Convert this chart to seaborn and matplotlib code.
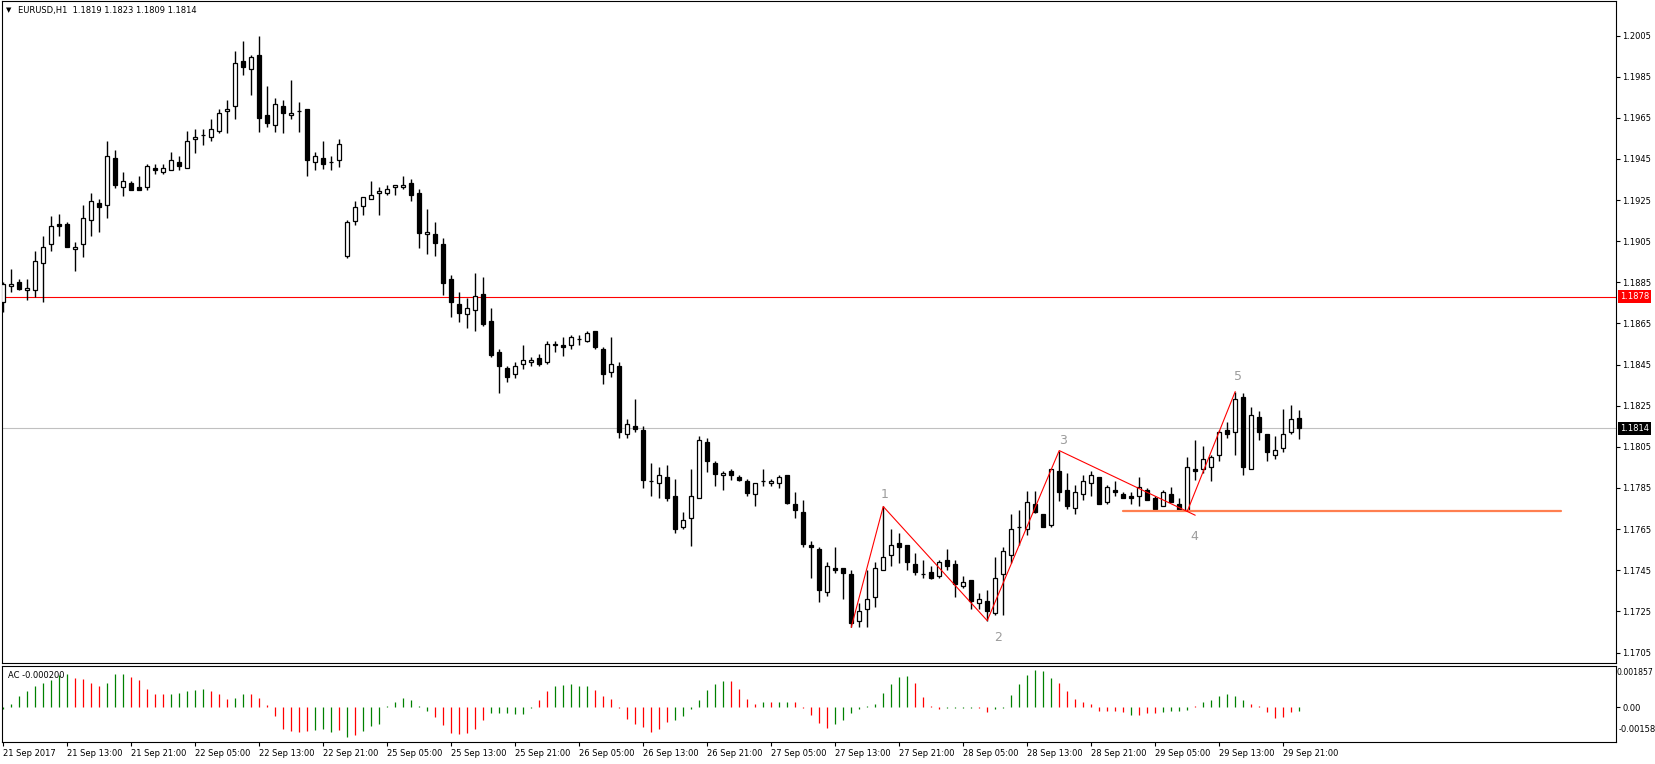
import numpy as np
import matplotlib
matplotlib.use("Agg")
import matplotlib.pyplot as plt
import matplotlib.transforms as mtransforms
import seaborn as sns

# EURUSD H1 candles, 21 Sep 05:00 .. 29 Sep 23:00 (broker time)
opens = [
    1.18752, 1.18832, 1.18851, 1.18812, 1.18812, 1.18943, 1.19036, 1.19135, 1.19135, 1.19011,
    1.19036, 1.19152, 1.19237, 1.19225, 1.19454, 1.19313, 1.19332, 1.19313, 1.19313, 1.19405,
    1.19386, 1.19395, 1.19434, 1.19405, 1.19546, 1.19565, 1.19556, 1.19585, 1.19682, 1.19706,
    1.19925, 1.19886, 1.19956, 1.19663, 1.19614, 1.19706, 1.19663, 1.19684, 1.19692, 1.19434,
    1.19454, 1.19434, 1.19444, 1.18980, 1.19150, 1.19223, 1.19254, 1.19283, 1.19283, 1.19312,
    1.19312, 1.19332, 1.19283, 1.19085, 1.19085, 1.19037, 1.18865, 1.18744, 1.18695, 1.18714,
    1.18792, 1.18661, 1.18509, 1.18434, 1.18403, 1.18452, 1.18462, 1.18481, 1.18462, 1.18544,
    1.18544, 1.18544, 1.18573, 1.18564, 1.18612, 1.18525, 1.18413, 1.18442, 1.18112, 1.18150,
    1.18131, 1.17885, 1.17873, 1.17903, 1.17810, 1.17658, 1.17703, 1.17800, 1.18073, 1.17971,
    1.17911, 1.17932, 1.17903, 1.17883, 1.17820, 1.17885, 1.17873, 1.17873, 1.17912, 1.17771,
    1.17732, 1.17574, 1.17553, 1.17344, 1.17460, 1.17460, 1.17431, 1.17201, 1.17261, 1.17320,
    1.17451, 1.17524, 1.17582, 1.17572, 1.17480, 1.17431, 1.17441, 1.17422, 1.17501, 1.17480,
    1.17371, 1.17402, 1.17290, 1.17300, 1.17242, 1.17431, 1.17524, 1.17660, 1.17650, 1.17773,
    1.17723, 1.17670, 1.17932, 1.17840, 1.17752, 1.17820, 1.17874, 1.17903, 1.17780, 1.17840,
    1.17820, 1.17810, 1.17810, 1.17840, 1.17801, 1.17760, 1.17820, 1.17772, 1.17742, 1.17942,
    1.17942, 1.17951, 1.18010, 1.18131, 1.18123, 1.18292, 1.17942, 1.18194, 1.18112, 1.18010,
    1.18044, 1.18123, 1.18190,
]
highs = [
    1.18854, 1.18916, 1.18867, 1.18867, 1.19003, 1.19076, 1.19173, 1.19183, 1.19144, 1.19047,
    1.19227, 1.19285, 1.19256, 1.19538, 1.19494, 1.19386, 1.19344, 1.19368, 1.19425, 1.19425,
    1.19425, 1.19485, 1.19465, 1.19587, 1.19596, 1.19595, 1.19645, 1.19692, 1.19737, 1.19975,
    1.20024, 1.19956, 1.20048, 1.19805, 1.19745, 1.19737, 1.19834, 1.19726, 1.19692, 1.19485,
    1.19536, 1.19463, 1.19546, 1.19152, 1.19244, 1.19264, 1.19341, 1.19312, 1.19322, 1.19322,
    1.19367, 1.19351, 1.19302, 1.19205, 1.19144, 1.19066, 1.18885, 1.18802, 1.18773, 1.18894,
    1.18875, 1.18724, 1.18525, 1.18444, 1.18462, 1.18546, 1.18489, 1.18500, 1.18565, 1.18565,
    1.18585, 1.18595, 1.18595, 1.18612, 1.18612, 1.18535, 1.18585, 1.18462, 1.18186, 1.18282,
    1.18150, 1.17972, 1.17951, 1.17961, 1.17893, 1.17732, 1.17941, 1.18102, 1.18092, 1.17980,
    1.17932, 1.17941, 1.17912, 1.17893, 1.17873, 1.17941, 1.17893, 1.17912, 1.17912, 1.17830,
    1.17791, 1.17590, 1.17562, 1.17489, 1.17564, 1.17460, 1.17451, 1.17289, 1.17452, 1.17491,
    1.17760, 1.17652, 1.17631, 1.17572, 1.17533, 1.17501, 1.17469, 1.17501, 1.17553, 1.17501,
    1.17420, 1.17402, 1.17339, 1.17355, 1.17514, 1.17563, 1.17725, 1.17744, 1.17833, 1.17833,
    1.17723, 1.17942, 1.18032, 1.17922, 1.17864, 1.17914, 1.17932, 1.17903, 1.17864, 1.17883,
    1.17830, 1.17830, 1.17903, 1.17849, 1.17810, 1.17840, 1.17854, 1.17801, 1.18000, 1.18084,
    1.18052, 1.18010, 1.18133, 1.18172, 1.18319, 1.18311, 1.18243, 1.18224, 1.18112, 1.18102,
    1.18233, 1.18253, 1.18230,
]
lows = [
    1.18704, 1.18801, 1.18811, 1.18762, 1.18781, 1.18752, 1.19000, 1.19073, 1.19020, 1.18903,
    1.18971, 1.19073, 1.19094, 1.19161, 1.19311, 1.19272, 1.19301, 1.19301, 1.19301, 1.19376,
    1.19376, 1.19395, 1.19395, 1.19405, 1.19481, 1.19519, 1.19536, 1.19574, 1.19574, 1.19642,
    1.19860, 1.19763, 1.19583, 1.19603, 1.19583, 1.19574, 1.19642, 1.19583, 1.19366, 1.19394,
    1.19403, 1.19394, 1.19413, 1.18970, 1.19131, 1.19179, 1.19254, 1.19179, 1.19273, 1.19273,
    1.19302, 1.19244, 1.19019, 1.18990, 1.18980, 1.18789, 1.18680, 1.18659, 1.18630, 1.18611,
    1.18640, 1.18489, 1.18311, 1.18363, 1.18384, 1.18429, 1.18441, 1.18441, 1.18452, 1.18510,
    1.18491, 1.18525, 1.18544, 1.18562, 1.18525, 1.18355, 1.18392, 1.18092, 1.18092, 1.18120,
    1.17852, 1.17809, 1.17799, 1.17789, 1.17629, 1.17649, 1.17570, 1.17800, 1.17930, 1.17862,
    1.17838, 1.17891, 1.17882, 1.17809, 1.17760, 1.17862, 1.17862, 1.17852, 1.17770, 1.17702,
    1.17561, 1.17410, 1.17298, 1.17327, 1.17439, 1.17308, 1.17172, 1.17175, 1.17172, 1.17271,
    1.17451, 1.17469, 1.17485, 1.17451, 1.17428, 1.17412, 1.17407, 1.17412, 1.17451, 1.17320,
    1.17363, 1.17261, 1.17261, 1.17205, 1.17232, 1.17232, 1.17485, 1.17572, 1.17621, 1.17728,
    1.17658, 1.17658, 1.17789, 1.17750, 1.17723, 1.17793, 1.17809, 1.17770, 1.17770, 1.17809,
    1.17801, 1.17770, 1.17760, 1.17791, 1.17750, 1.17760, 1.17780, 1.17742, 1.17736, 1.17890,
    1.17922, 1.17883, 1.17981, 1.18091, 1.18010, 1.17911, 1.17942, 1.18083, 1.17981, 1.17990,
    1.18024, 1.18112, 1.18090,
]
closes = [
    1.18841, 1.18841, 1.18820, 1.18822, 1.18953, 1.19021, 1.19123, 1.19122, 1.19020, 1.19021,
    1.19162, 1.19245, 1.19214, 1.19463, 1.19321, 1.19342, 1.19301, 1.19301, 1.19415, 1.19395,
    1.19405, 1.19444, 1.19415, 1.19536, 1.19556, 1.19565, 1.19595, 1.19672, 1.19692, 1.19915,
    1.19896, 1.19945, 1.19651, 1.19624, 1.19716, 1.19672, 1.19672, 1.19684, 1.19444, 1.19463,
    1.19425, 1.19434, 1.19522, 1.19142, 1.19215, 1.19264, 1.19273, 1.19293, 1.19302, 1.19322,
    1.19322, 1.19273, 1.19092, 1.19095, 1.19043, 1.18849, 1.18752, 1.18703, 1.18724, 1.18782,
    1.18649, 1.18497, 1.18441, 1.18392, 1.18442, 1.18471, 1.18471, 1.18452, 1.18551, 1.18551,
    1.18535, 1.18583, 1.18573, 1.18603, 1.18535, 1.18403, 1.18452, 1.18121, 1.18160, 1.18139,
    1.17891, 1.17885, 1.17912, 1.17799, 1.17649, 1.17694, 1.17810, 1.18082, 1.17979, 1.17920,
    1.17922, 1.17911, 1.17891, 1.17828, 1.17873, 1.17885, 1.17883, 1.17903, 1.17779, 1.17741,
    1.17580, 1.17561, 1.17352, 1.17470, 1.17449, 1.17439, 1.17192, 1.17250, 1.17310, 1.17460,
    1.17514, 1.17572, 1.17563, 1.17488, 1.17441, 1.17431, 1.17412, 1.17490, 1.17469, 1.17383,
    1.17392, 1.17300, 1.17310, 1.17250, 1.17412, 1.17543, 1.17650, 1.17660, 1.17781, 1.17733,
    1.17658, 1.17942, 1.17830, 1.17760, 1.17830, 1.17883, 1.17912, 1.17770, 1.17854, 1.17830,
    1.17801, 1.17801, 1.17854, 1.17791, 1.17750, 1.17830, 1.17780, 1.17742, 1.17951, 1.17932,
    1.17990, 1.18000, 1.18123, 1.18112, 1.18282, 1.17951, 1.18204, 1.18123, 1.18023, 1.18034,
    1.18112, 1.18185, 1.18140,
]

# Accelerator Oscillator histogram, g = rising bar, r = falling bar
ac_values = [
    -0.00010, 0.00016, 0.00049, 0.00074, 0.00096, 0.00109, 0.00122, 0.00146, 0.00149, 0.00131,
    0.00127, 0.00109, 0.00093, 0.00109, 0.00148, 0.00149, 0.00136, 0.00122, 0.00083, 0.00060,
    0.00057, 0.00060, 0.00065, 0.00074, 0.00075, 0.00081, 0.00074, 0.00057, 0.00038, 0.00041,
    0.00060, 0.00059, 0.00041, 0.00009, -0.00041, -0.00097, -0.00106, -0.00111, -0.00106, -0.00105,
    -0.00100, -0.00111, -0.00102, -0.00134, -0.00125, -0.00109, -0.00085, -0.00075, 0.00003, 0.00025,
    0.00043, 0.00034, 0.00007, -0.00018, -0.00044, -0.00080, -0.00118, -0.00124, -0.00118, -0.00097,
    -0.00057, -0.00027, -0.00026, -0.00025, -0.00031, -0.00031, -0.00006, 0.00034, 0.00074, 0.00096,
    0.00102, 0.00103, 0.00097, 0.00093, 0.00078, 0.00052, 0.00038, -0.00006, -0.00055, -0.00075,
    -0.00090, -0.00115, -0.00097, -0.00066, -0.00060, -0.00040, -0.00009, 0.00034, 0.00078, 0.00105,
    0.00118, 0.00118, 0.00083, 0.00038, 0.00016, 0.00025, 0.00021, 0.00025, 0.00025, 0.00025,
    -0.00002, -0.00037, -0.00071, -0.00094, -0.00077, -0.00059, -0.00027, -0.00010, 0.00007, 0.00016,
    0.00065, 0.00105, 0.00136, 0.00140, 0.00109, 0.00047, 0.00007, -0.00010, -0.00003, -0.00002,
    -0.00002, -0.00002, -0.00005, -0.00022, -0.00010, -0.00003, 0.00056, 0.00105, 0.00144, 0.00167,
    0.00162, 0.00131, 0.00109, 0.00074, 0.00038, 0.00025, 0.00012, -0.00016, -0.00019, -0.00016,
    -0.00022, -0.00037, -0.00037, -0.00028, -0.00028, -0.00024, -0.00019, -0.00019, -0.00015, 0.00007,
    0.00025, 0.00030, 0.00052, 0.00060, 0.00052, 0.00034, 0.00016, 0.00003, -0.00024, -0.00049,
    -0.00044, -0.00024, -0.00020,
]
ac_dirs = (
    "ggggggggg" "rrrr" "ggg" "rrrrr" "ggggg" "rrr" "gg" "rrrrrrrr" "ggg" "r" "g" "r" "ggggggggg"
    "rrrrrrr" "gggggg" "rr" "ggggg" "rrrrrrrrrr" "ggggggg" "rrrr" "g" "r" "gg" "rrrrr"
    "gggggggggg" "rrrr" "gggg" "rr" "gggggggg" "rrrrrrrrr" "g" "rrr" "gggg" "r" "gggggg"
    "rrrrrr" "ggg"
)

time_labels = [
    "21 Sep 2017", "21 Sep 13:00", "21 Sep 21:00", "22 Sep 05:00", "22 Sep 13:00",
    "22 Sep 21:00", "25 Sep 05:00", "25 Sep 13:00", "25 Sep 21:00", "26 Sep 05:00",
    "26 Sep 13:00", "26 Sep 21:00", "27 Sep 05:00", "27 Sep 13:00", "27 Sep 21:00",
    "28 Sep 05:00", "28 Sep 13:00", "28 Sep 21:00", "29 Sep 05:00", "29 Sep 13:00",
    "29 Sep 21:00",
]
price_ticks = [1.1705, 1.1725, 1.1745, 1.1765, 1.1785, 1.1805, 1.1825, 1.1845,
               1.1865, 1.1885, 1.1905, 1.1925, 1.1945, 1.1965, 1.1985, 1.2005]
header = "EURUSD,H1  1.1819 1.1823 1.1809 1.1814"
ac_name = "AC -0.000200"
ac_top, ac_bottom = 0.001857, -0.00158
bid_price = 1.1814
red_level = 1.1878

# Elliott wave markup (zigzag) and the horizontal trend line
wave_names = ["1", "2", "3", "4", "5"]
wave_bars = [106, 110, 123, 132, 148, 154]
wave_prices = [1.17172, 1.17760, 1.17205, 1.18032, 1.17736, 1.18319]
support_bars = [140, 194.7]
support_price = 1.17736

sns.set_style("white")
plt.rcParams["font.family"] = ["DejaVu Sans"]
plt.rcParams["axes.edgecolor"] = "black"
plt.rcParams["text.color"] = "black"
plt.rcParams["xtick.color"] = "black"
plt.rcParams["ytick.color"] = "black"

W, H = 1656, 764
fig = plt.figure(figsize=(W / 100, H / 100), dpi=100)


def box(x0, y0, x1, y1):
    return [x0 / W, 1 - y1 / H, (x1 - x0) / W, (y1 - y0) / H]


ax = fig.add_axes(box(2, 1, 1616, 663))
ax2 = fig.add_axes(box(2, 666, 1616, 742))

x = np.arange(len(opens))
o, hi, lo, c = (np.array(v) for v in (opens, highs, lows, closes))
up = c >= o

ax.vlines(x, lo, hi, color="black", lw=1.0, zorder=2)
ax.bar(x[up], (c - o)[up], bottom=o[up], width=0.5, facecolor="white",
       edgecolor="black", lw=0.9, zorder=3)
ax.bar(x[~up], (o - c)[~up], bottom=c[~up], width=0.5, facecolor="black",
       edgecolor="black", lw=0.9, zorder=3)

ax.axhline(red_level, color="#ff0000", lw=0.8, zorder=1)
ax.axhline(bid_price, color="#c0c0c0", lw=0.8, zorder=1)
ax.plot(support_bars, [support_price, support_price], color="#ff7f50", lw=1.6, zorder=4)

sns.lineplot(x=wave_bars, y=wave_prices, sort=False, estimator=None,
             color="#ff0000", lw=0.8, ax=ax, zorder=5)
# little overshoot of the 3-4 leg past point 4
tail_x = wave_bars[4] + (wave_bars[4] - wave_bars[3]) / 16
tail_y = wave_prices[4] + (wave_prices[4] - wave_prices[3]) / 16
ax.plot([wave_bars[4], tail_x], [wave_prices[4], tail_y], color="#ff0000", lw=0.8, zorder=5)

label_offsets = [(1, 8.5), (8, -12.5), (3, 7.2), (5, -18.4), (2, 10.8)]
for name, bx, py, off in zip(wave_names, wave_bars[1:], wave_prices[1:], label_offsets):
    ax.annotate(name, (bx, py), xytext=off, textcoords="offset points",
                ha="center", va="center", fontsize=9, color="#9c9c9c")

ax.set_xlim(-0.16, 201.6)
ax.set_ylim(1.16999, 1.20218)
ax.set_yticks(price_ticks)
ax.set_yticklabels([f"{t:.4f}" for t in price_ticks])
ax.tick_params(axis="y", left=False, right=True, labelleft=False, labelright=True,
               length=3, width=0.8, labelsize=6, pad=1.5, direction="out")
ax.tick_params(axis="x", bottom=False, labelbottom=False)

blend = mtransforms.blended_transform_factory(ax.transAxes, ax.transData)
for level, bg in ((red_level, "#ff0000"), (bid_price, "black")):
    ax.text(1.0 + 4 / 1614, level, f"{level:.4f}", transform=blend, color="white",
            fontsize=6, va="center", ha="left", zorder=10, clip_on=False,
            bbox=dict(boxstyle="square,pad=0.22", fc=bg, ec="none"))

fig.text(6 / W, 1 - 10 / H, "\u25bc", fontsize=5, va="center", ha="left")
fig.text(18 / W, 1 - 10 / H, header, fontsize=6, va="center", ha="left")

# AC panel
colors = ["#008000" if d == "g" else "#ff0000" for d in ac_dirs]
ax2.vlines(x, 0, ac_values, colors=colors, lw=0.9)
ax2.set_xlim(-0.16, 201.6)
ax2.set_ylim(ac_bottom, ac_top)
ax2.set_yticks([0])
ax2.set_yticklabels(["0.00"])
ax2.tick_params(axis="y", left=False, right=True, labelleft=False, labelright=True,
                length=3, width=0.8, labelsize=6, pad=1.5, direction="out")
ax2.text(1.0 + 1 / 1614, 0.912, f"{ac_top:.6f}", transform=ax2.transAxes, fontsize=5.6,
         va="center", ha="left", clip_on=False)
ax2.text(1.0 + 3 / 1614, 0.158, f"{ac_bottom:.5f}", transform=ax2.transAxes, fontsize=6,
         va="center", ha="left", clip_on=False)
ax2.text(6 / 1614, 0.88, ac_name, transform=ax2.transAxes, fontsize=6,
         va="center", ha="left")

ax2.set_xticks(np.arange(0, 161, 8))
ax2.set_xticklabels(time_labels, ha="left")
ax2.tick_params(axis="x", bottom=True, length=3, width=0.8, labelsize=6, pad=2,
                direction="out")

for a in (ax, ax2):
    for s in a.spines.values():
        s.set_color("black")
        s.set_linewidth(0.8)

fig.savefig("out.png", dpi=100)
